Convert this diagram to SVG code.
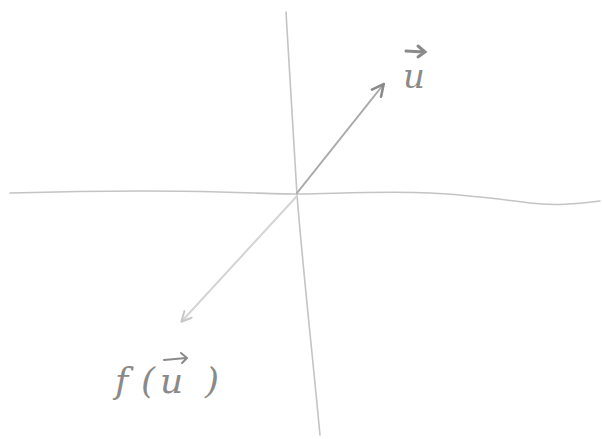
<svg xmlns="http://www.w3.org/2000/svg" width="602" height="439" viewBox="0 0 602 439">
<style>
.axis{fill:none;stroke:#c4c4c4;stroke-width:1.6;stroke-linecap:round}
.vec{fill:none;stroke-width:2;stroke-linecap:round}
.lbl{font-family:"DejaVu Serif","Liberation Serif",serif;font-style:italic;fill:#8a8a8a}
</style>
<defs>
<marker id="ah" viewBox="0 0 12 12" refX="10" refY="6" markerWidth="7" markerHeight="7" markerUnits="strokeWidth" orient="auto">
<path d="M1,1 L11,6 L1,11" fill="none" stroke="#8a8a8a" stroke-width="2.2" stroke-linecap="round"/>
</marker>
<marker id="ah2" viewBox="0 0 12 12" refX="10" refY="6" markerWidth="6" markerHeight="6" markerUnits="strokeWidth" orient="auto">
<path d="M1,1 L11,6 L1,11" fill="none" stroke="#c8c8c8" stroke-width="2" stroke-linecap="round"/>
</marker>
</defs>
<rect width="602" height="439" fill="#ffffff"/>
<g id="connectors">
<path id="x-axis" class="axis" d="M10,193 C80,191 150,190 220,192 C260,193 280,194 300,194 C350,193 390,191 430,193 C470,195 500,199 530,203 C555,206 575,204 600,201"/>
<path id="y-axis" class="axis" d="M286,12 C290,80 294,150 297,195 C303,270 312,350 320,435"/>
<path id="u-vec" class="vec" stroke="#a8a8a8" d="M297,193 L383,85" marker-end="url(#ah)"/>
<path id="fu-vec" class="vec" stroke="#d4d4d4" d="M297,196 L182,321" marker-end="url(#ah2)"/>
</g>
<g id="label-u">
<text class="lbl" x="403" y="88" font-size="34">u</text>
<path d="M406,51 L424,52 M418,46 L425,52 L418,57" fill="none" stroke="#8a8a8a" stroke-width="3" stroke-linecap="round"/>
</g>
<g id="label-fu">
<text class="lbl" x="115 141 160 205" y="393" font-size="36">f(u)</text>
<path d="M164,360 L186,358 M181,353 L187,358 L182,363" fill="none" stroke="#8a8a8a" stroke-width="2" stroke-linecap="round"/>
</g>
</svg>
